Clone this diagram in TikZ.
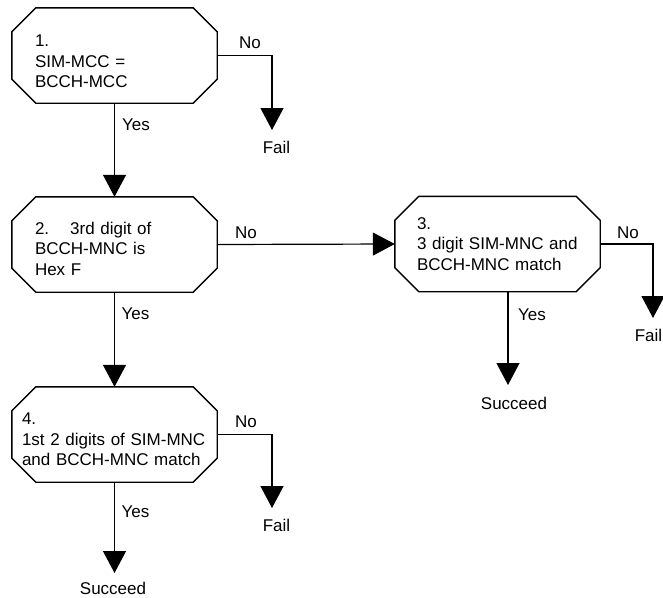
\documentclass[tikz,border=0pt]{standalone}
\usepackage{fontspec}
\setmainfont{Liberation Sans}
\usetikzlibrary{arrows.meta}
\newcommand\diafont{\fontsize{17}{20.5}\selectfont}
\newcommand\octa[1]{%
  \draw[line width=1.4pt, line join=miter]
    ([xshift=24pt]#1.north west) -- ([xshift=-24pt]#1.north east)
    -- ([yshift=-24pt]#1.north east) -- ([yshift=24pt]#1.south east)
    -- ([xshift=-24pt]#1.south east) -- ([xshift=24pt]#1.south west)
    -- ([yshift=24pt]#1.south west) -- ([yshift=-24pt]#1.north west) -- cycle;}
\begin{document}
\begin{tikzpicture}[x=1pt,y=-1pt,
  box/.style={rectangle, minimum width=205pt, minimum height=95pt, inner ysep=0pt, align=left, font=\diafont},
  lbl/.style={font=\diafont, inner sep=0pt},
  arr/.style={-{Triangle[width=23pt,length=22pt]}, line width=1.2pt}]
\useasboundingbox (0,0) rectangle (663,597);
\node[box, text width=159pt, inner xsep=23pt] (b1) at (114.5,55.5) {\rule{0pt}{24pt}1.\\SIM-MCC =\\BCCH-MCC};
\node[box, text width=159pt, inner xsep=23pt] (b2) at (114.5,244.5) {\rule{0pt}{21pt}2.\hspace*{21pt}3rd digit of\\BCCH-MNC is\\Hex F};
\node[box, text width=161pt, inner xsep=22pt] (b3) at (497.5,244) {3.\\3 digit SIM-MNC and\\BCCH-MNC match};
\node[box, text width=185pt, inner xsep=10pt] (b4) at (114.5,434.5) {\rule{0pt}{22pt}4.\\1st 2 digits of SIM-MNC\\and BCCH-MNC match};
\octa{b1}\octa{b2}\octa{b3}\octa{b4}
% step 1
\coordinate (t1) at (272,130);
\draw[arr] (b1.east) -| (t1);
\node[lbl] (no1) at (250,43) {No};
\node[lbl] (fail1) at (276.5,147) {Fail};
\draw[arr] (b1.south) -- (b2.north);
\node[lbl] (yes1) at (136,125) {Yes};
% step 2
\draw[arr] (b2.east) -- (b3.west);
\node[lbl] (no2) at (246,233) {No};
\draw[arr] (b2.south) -- (b4.north);
\node[lbl] (yes2) at (135.5,314) {Yes};
% step 3
\coordinate (t3) at (653,318);
\draw[arr] (b3.east) -| (t3);
\node[lbl] (no3) at (628,233) {No};
\node[lbl] (fail3) at (648.5,335) {Fail};
\coordinate (t3y) at (508,385);
\draw[arr] (b3.south -| t3y) -- (t3y);
\node[lbl] (yes3) at (532,315) {Yes};
\node[lbl] (succ3) at (514,403) {Succeed};
% step 4
\coordinate (t4) at (272,508);
\draw[arr] (b4.east) -| (t4);
\node[lbl] (no4) at (246,422) {No};
\node[lbl] (fail4) at (276.5,525) {Fail};
\coordinate (t4y) at (114.5,573);
\draw[arr] (b4.south) -- (t4y);
\node[lbl] (yes4) at (135.5,512) {Yes};
\node[lbl] (succ4) at (113,588) {Succeed};
\end{tikzpicture}
\end{document}
